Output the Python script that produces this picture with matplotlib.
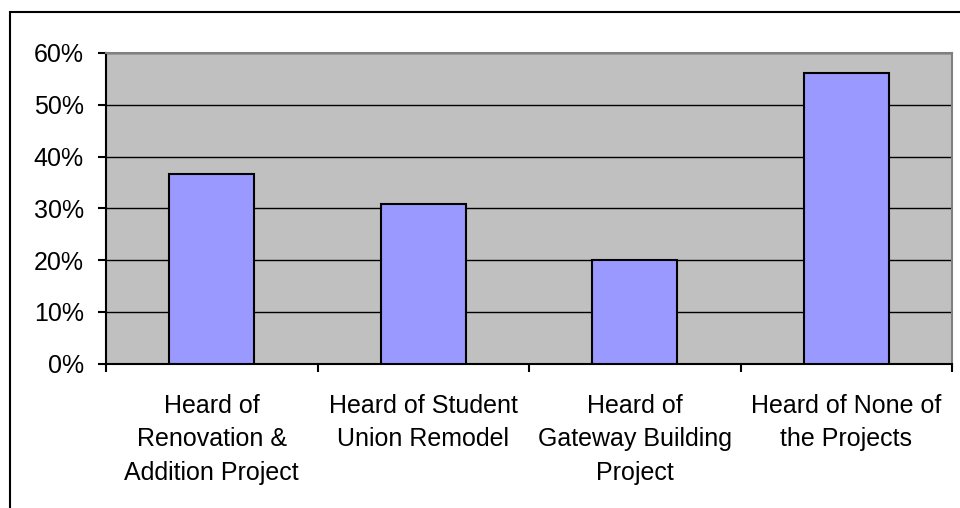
import matplotlib
matplotlib.use("Agg")
import matplotlib.pyplot as plt
from matplotlib.patches import Rectangle
from matplotlib.ticker import FixedLocator, PercentFormatter

categories = ["Heard of\nRenovation &\nAddition Project",
              "Heard of Student\nUnion Remodel",
              "Heard of\nGateway Building\nProject",
              "Heard of None of\nthe Projects"]
values = [36.6, 30.9, 20.0, 56.1]
yticks = [0, 10, 20, 30, 40, 50, 60]

plt.rcParams['font.family'] = ['Liberation Sans', 'DejaVu Sans']
FS = 18

fig = plt.figure(figsize=(9.6, 5.08), dpi=100)
fig.patch.set_facecolor('white')
# outer chart border
fig.add_artist(Rectangle((10/960, -0.05), 1.2, 1 - 12/508 + 0.05,
                         transform=fig.transFigure, fill=False,
                         edgecolor='black', linewidth=1.5))

ax = fig.add_axes([106/960, 1 - 363.5/508, (952-106)/960, (363.5-53)/508])
ax.set_facecolor('#C0C0C0')
x = list(range(len(categories)))
ax.bar(x, values, width=0.4, color='#9999FF', edgecolor='black', linewidth=1.5, zorder=3)
ax.set_xlim(-0.5, len(categories) - 0.5)
ax.set_ylim(0, 60)
ax.yaxis.set_major_locator(FixedLocator(yticks))
ax.yaxis.set_major_formatter(PercentFormatter(decimals=0))
ax.grid(axis='y', color='black', linewidth=1.0, zorder=1)
ax.set_axisbelow(True)

ax.set_xticks([i - 0.5 for i in range(len(categories) + 1)])
ax.set_xticklabels([])
ax.set_xticks(x, minor=True)
ax.set_xticklabels(categories, minor=True, fontsize=FS, linespacing=1.49, va='top')
ax.tick_params(axis='x', which='minor', length=0, pad=22)
ax.tick_params(axis='x', which='major', length=6, width=1.5, direction='out')
ax.tick_params(axis='y', length=6, width=1.5, direction='out', labelsize=FS, pad=10)

for s in ['top', 'right']:
    ax.spines[s].set_color('#808080')
    ax.spines[s].set_linewidth(1.5)
for s in ['left', 'bottom']:
    ax.spines[s].set_color('black')
    ax.spines[s].set_linewidth(1.5)

fig.savefig('out.png', dpi=100)
